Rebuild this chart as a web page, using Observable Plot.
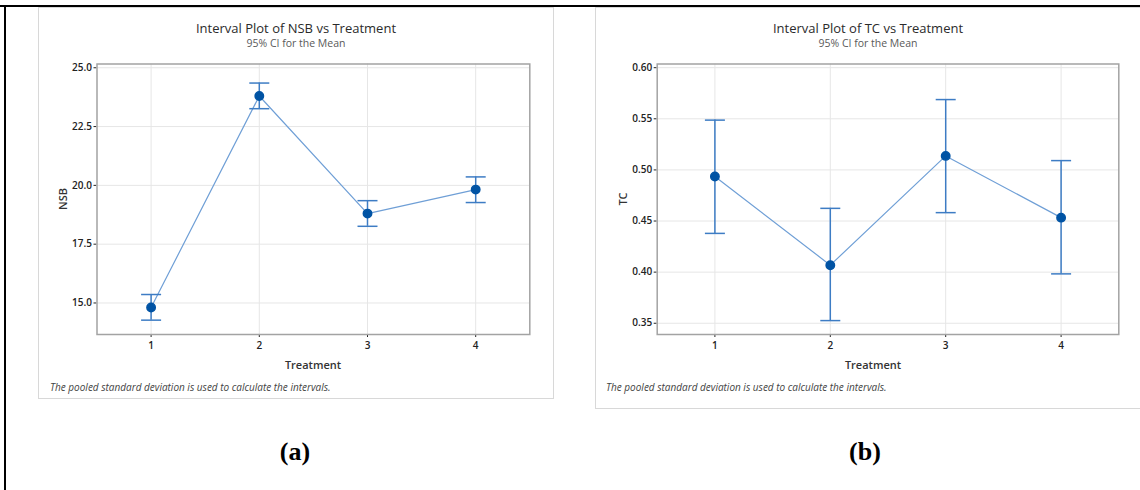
<!DOCTYPE html>
<html>
<head>
<meta charset="utf-8">
<script src="https://cdn.jsdelivr.net/npm/d3@7"></script>
<script src="https://cdn.jsdelivr.net/npm/@observablehq/plot@0.6"></script>
<style>
  html, body { margin: 0; padding: 0; background: #fff; }
  #page { position: relative; width: 1140px; height: 490px; overflow: hidden; font-family: "Open Sans", "Noto Sans", sans-serif; }
  .abs { position: absolute; }
  .panel { position: absolute; border: 1px solid #d8d8d8; box-sizing: border-box; background: #fff; }
  .title { position: absolute; font-size: 13px; color: #2b2b2b; white-space: nowrap; transform: translateX(-50%); }
  .subtitle { position: absolute; font-size: 10.5px; color: #595959; white-space: nowrap; transform: translateX(-50%); }
  .xlabel { position: absolute; font-size: 11px; font-weight: 600; color: #333; white-space: nowrap; transform: translateX(-50%); }
  .ylabel { position: absolute; font-size: 11px; font-weight: 600; color: #333; white-space: nowrap; transform: translate(-50%, -50%) rotate(-90deg); }
  .note { position: absolute; font-size: 10px; font-style: italic; color: #444; white-space: nowrap; }
  .tag { position: absolute; font-family: "Liberation Serif", "Times New Roman", serif; font-weight: bold; font-size: 26px; line-height: 30px; color: #000; transform: translateX(-50%); }
  .plot { position: absolute; }
</style>
</head>
<body>
<div id="page">
  <div class="abs" style="left:0;top:5px;width:1140px;height:2px;background:#000"></div>
  <div class="abs" style="left:4px;top:5px;width:2px;height:485px;background:#000"></div>

  <div class="panel" style="left:38px;top:7px;width:516px;height:392px"></div>
  <div class="panel" style="left:595px;top:7px;width:560px;height:402px"></div>

  <div id="plotA" class="plot" style="left:0;top:0"></div>
  <div id="plotB" class="plot" style="left:570px;top:0"></div>

  <div class="title" style="left:296px;top:19px">Interval Plot of NSB vs Treatment</div>
  <div class="subtitle" style="left:296px;top:36px">95% CI for the Mean</div>
  <div class="ylabel" style="left:62px;top:199px">NSB</div>
  <div class="xlabel" style="left:313px;top:357px">Treatment</div>
  <div class="note" style="left:50px;top:380px">The pooled standard deviation is used to calculate the intervals.</div>
  <div class="tag" style="left:295px;top:437px">(a)</div>

  <div class="title" style="left:868px;top:19px">Interval Plot of TC vs Treatment</div>
  <div class="subtitle" style="left:868px;top:36px">95% CI for the Mean</div>
  <div class="ylabel" style="left:622px;top:199px">TC</div>
  <div class="xlabel" style="left:873px;top:357px">Treatment</div>
  <div class="note" style="left:606px;top:380px">The pooled standard deviation is used to calculate the intervals.</div>
  <div class="tag" style="left:865px;top:437px">(b)</div>
</div>
<script>
// ---- data ----
const treatments = [1, 2, 3, 4];
const xTicks = [1, 2, 3, 4];

const nsbMean  = [14.81, 23.80, 18.80, 19.82];
const nsbLower = [14.27, 23.26, 18.26, 19.27];
const nsbUpper = [15.36, 24.35, 19.35, 20.36];
const nsbTicks = [15.0, 17.5, 20.0, 22.5, 25.0];
const nsbDomain = [13.66, 25.16];

const tcMean  = [0.4935, 0.4068, 0.5137, 0.4533];
const tcLower = [0.4379, 0.3526, 0.4582, 0.3983];
const tcUpper = [0.5487, 0.4624, 0.5688, 0.5091];
const tcTicks = [0.35, 0.40, 0.45, 0.50, 0.55, 0.60];
const tcDomain = [0.339, 0.6036];

// ---- styles ----
const lineColor = "#6f9fd6";
const barColor = "#3d7cc4";
const dotColor = "#0053a4";
const gridColor = "#e6e6e6";
const frameColor = "#a3a3a3";

const capSymbol = {
  draw(context) {
    context.moveTo(-10, 0);
    context.lineTo(10, 0);
  }
};

function intervalPlot({mean, lower, upper, ticks, domain, fmt, width, marginLeft, marginRight}) {
  const rows = treatments.map((t, i) => ({t, m: mean[i], lo: lower[i], hi: upper[i]}));
  return Plot.plot({
    width,
    height: 360,
    marginLeft,
    marginRight,
    marginTop: 63.5,
    marginBottom: 26,
    style: {fontFamily: "'Open Sans', 'Noto Sans', sans-serif", fontSize: "10px", fontWeight: 600, color: "#222", background: "transparent"},
    x: {domain: [0.5, 4.5], ticks: xTicks, tickFormat: d3.format("d"), tickSize: 3, tickPadding: 4, label: null},
    y: {domain, ticks, tickFormat: fmt, tickSize: 3, tickPadding: 2, label: null},
    marks: [
      Plot.gridX(xTicks, {stroke: gridColor, strokeOpacity: 1, strokeWidth: 1}),
      Plot.gridY(ticks, {stroke: gridColor, strokeOpacity: 1, strokeWidth: 1}),
      Plot.frame({stroke: frameColor, strokeWidth: 1.5}),
      Plot.line(rows, {x: "t", y: "m", stroke: lineColor, strokeWidth: 1.2}),
      Plot.ruleX(rows, {x: "t", y1: "lo", y2: "hi", stroke: barColor, strokeWidth: 1.5}),
      Plot.dot(rows, {x: "t", y: "lo", symbol: capSymbol, stroke: barColor, strokeWidth: 1.5, fill: "none"}),
      Plot.dot(rows, {x: "t", y: "hi", symbol: capSymbol, stroke: barColor, strokeWidth: 1.5, fill: "none"}),
      Plot.dot(rows, {x: "t", y: "m", r: 4.2, fill: dotColor, stroke: dotColor})
    ]
  });
}

document.getElementById("plotA").append(intervalPlot({
  mean: nsbMean, lower: nsbLower, upper: nsbUpper, ticks: nsbTicks, domain: nsbDomain,
  fmt: d3.format(".1f"), width: 560, marginLeft: 96.5, marginRight: 30.7
}));
document.getElementById("plotB").append(intervalPlot({
  mean: tcMean, lower: tcLower, upper: tcUpper, ticks: tcTicks, domain: tcDomain,
  fmt: d3.format(".2f"), width: 570, marginLeft: 86.7, marginRight: 21.7
}));
</script>
</body>
</html>
